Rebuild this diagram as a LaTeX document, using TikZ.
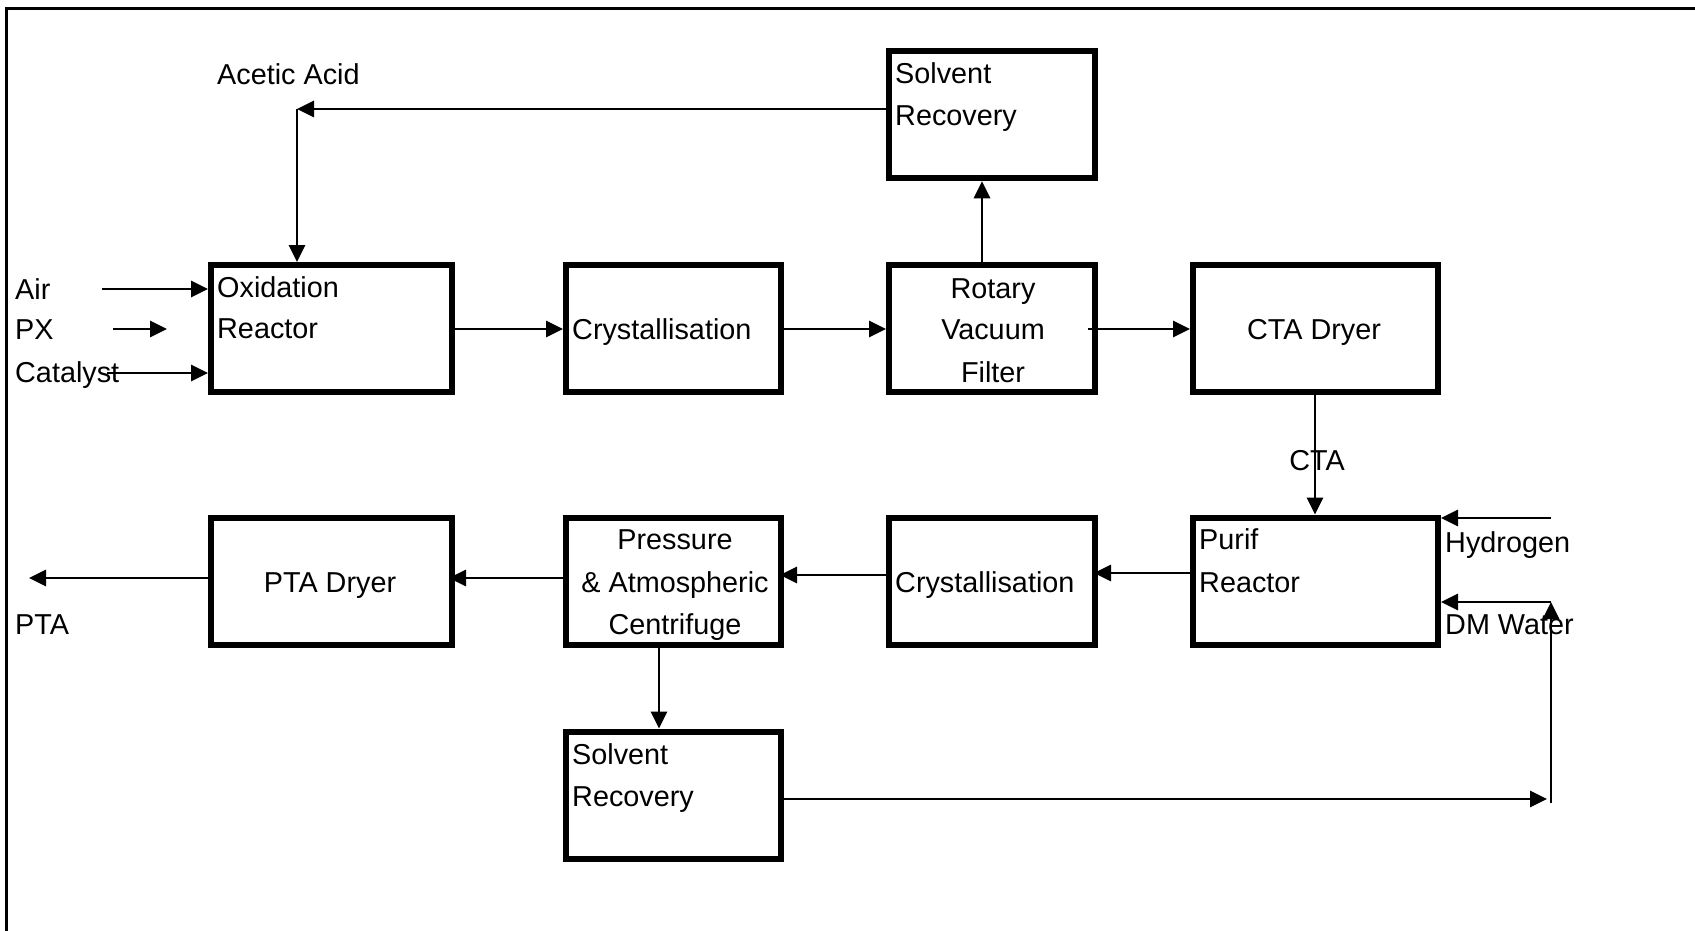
\documentclass[tikz,border=0pt]{standalone}
\usepackage{fontspec}
\setmainfont{Liberation Sans}
\usetikzlibrary{arrows.meta}
\begin{document}
\begin{tikzpicture}[x=1pt,y=-1pt,
  blk/.style={draw, line width=6pt, rectangle, inner sep=0pt, minimum height=127pt},
  lbl/.style={inner sep=0pt, font=\fontsize{28.8}{34}\selectfont},
  flow/.style={line width=2.8pt, -{Triangle[length=17pt,width=16pt]}}]
\useasboundingbox (0,0) rectangle (1695,931);

% page frame (open on the right and at the bottom)
\draw[line width=2.8pt] (6.7,931) -- (6.7,8.7) -- (1695,8.7);

% process units
\node[blk, minimum width=241pt] (ox)     at (331.5,328.5) {};
\node[blk, minimum width=215pt] (cr1)    at (673.5,328.5) {};
\node[blk, minimum width=206pt] (rvf)    at (992,328.5)   {};
\node[blk, minimum width=245pt] (ctad)   at (1315.5,328.5) {};
\node[blk, minimum width=206pt] (sr1)    at (992,114.75)  {};
\node[blk, minimum width=241pt] (ptad)   at (331.5,581)   {};
\node[blk, minimum width=215pt] (cent)   at (673.5,581)   {};
\node[blk, minimum width=206pt] (cr2)    at (992,581)     {};
\node[blk, minimum width=245pt] (purif)  at (1315.5,581)  {};
\node[blk, minimum width=215pt] (sr2)    at (673.5,795)   {};

% unit captions
\node[lbl, anchor=base west] (oxA) at (217,297) {Oxidation};
\node[lbl, anchor=base west] (oxB) at (217,338) {Reactor};
\node[lbl, anchor=base west] (cr1A) at (572,339) {Crystallisation};
\node[lbl, anchor=base] (rvfA) at (993,298) {Rotary};
\node[lbl, anchor=base] (rvfB) at (993,339) {Vacuum};
\node[lbl, anchor=base] (rvfC) at (993,382) {Filter};
\node[lbl, anchor=base] (ctadA) at (1314,339) {CTA Dryer};
\node[lbl, anchor=base west] (sr1A) at (895,84) {Solvent};
\node[lbl, anchor=base west] (sr1B) at (895,126) {Recovery};
\node[lbl, anchor=base] (ptadA) at (330,592) {PTA Dryer};
\node[lbl, anchor=base] (centA) at (675,549) {Pressure};
\node[lbl, anchor=base] (centB) at (675,592) {\& Atmospheric};
\node[lbl, anchor=base] (centC) at (675,634) {Centrifuge};
\node[lbl, anchor=base west] (cr2A) at (895,592) {Crystallisation};
\node[lbl, anchor=base west] (purA) at (1199,549) {Purif};
\node[lbl, anchor=base west] (purB) at (1199,592) {Reactor};
\node[lbl, anchor=base west] (sr2A) at (572,764) {Solvent};
\node[lbl, anchor=base west] (sr2B) at (572,806) {Recovery};

% stream labels
\node[lbl, anchor=base west] (aaL)  at (217,85)  {Acetic Acid};
\node[lbl, anchor=base west] (airL) at (15,299)  {Air};
\node[lbl, anchor=base west] (pxL)  at (15,339)  {PX};
\node[lbl, anchor=base west] (catL) at (15,382)  {Catalyst};
\node[lbl, anchor=base] (ctaL) at (1317,470) {CTA};
\node[lbl, anchor=base west] (h2L)  at (1445,552) {Hydrogen};
\node[lbl, anchor=base west] (dmL)  at (1445,634) {DM Water};
\node[lbl, anchor=base west] (ptaL) at (15,634)  {PTA};

% free stream ends
\coordinate (aa)     at (297,109);
\coordinate (airS)   at (102,289);
\coordinate (pxS)    at (113,329);
\coordinate (pxE)    at (167,329);
\coordinate (catS)   at (107,373);
\coordinate (h2S)    at (1551,518);
\coordinate (dmS)    at (1551,602);
\coordinate (retTip) at (1547,799);
\coordinate (retFt)  at (1551,803);
\coordinate (ptaOut) at (29,578);

% feeds
\draw[flow] (airS) -- (ox.west |- airS);
\draw[flow] (pxS) -- (pxE);
\draw[flow] (catS) -- (ox.west |- catS);

% oxidation line
\draw[flow] (ox.east |- 0,329) -- (cr1.west |- 0,329);
\draw[flow] (cr1.east |- 0,329) -- (rvf.west |- 0,329);
\draw[flow] ([xshift=-10pt]rvf.east |- 0,329) -- (ctad.west |- 0,329);
\draw[flow] (rvf.north -| 982,0) -- (sr1.south -| 982,0);
\draw[flow] (sr1.west |- aa) -- (aa);
\draw[flow] (aa) -- (ox.north -| aa);

% purification line
\draw[flow] (ctad.south -| 1315,0) -- (purif.north -| 1315,0);
\draw[flow] (h2S) -- (purif.east |- h2S);
\draw[flow] (dmS) -- (purif.east |- dmS);
\draw[flow, shorten >=-4pt] (purif.west |- 0,573) -- (cr2.east |- 0,573);
\draw[flow, shorten >=-4pt] (cr2.west |- 0,575) -- (cent.east |- 0,575);
\draw[flow, shorten >=-6pt] (cent.west |- 0,578) -- (ptad.east |- 0,578);
\draw[flow] (ptad.west |- ptaOut) -- (ptaOut);
\draw[flow] (cent.south -| 659,0) -- (sr2.north -| 659,0);
\draw[flow] (sr2.east |- retTip) -- (retTip);
\draw[flow] (retFt) -- (dmS);
\end{tikzpicture}
\end{document}
